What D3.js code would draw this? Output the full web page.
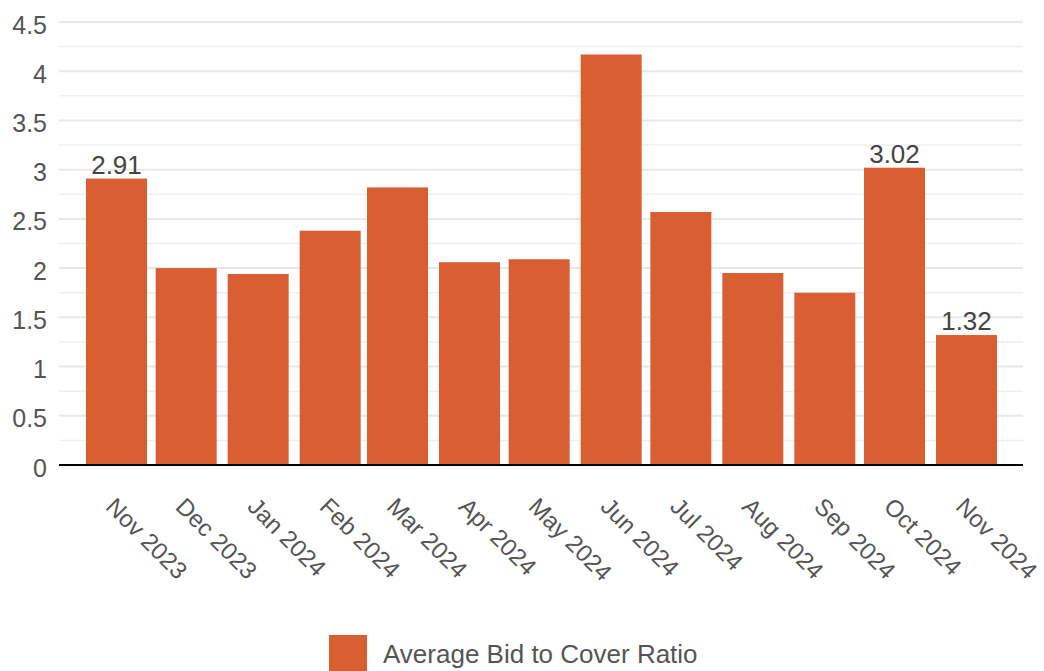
<!DOCTYPE html>
<html>
<head>
<meta charset="utf-8">
<script src="https://cdn.jsdelivr.net/npm/d3@7"></script>
<style>
  html, body { margin: 0; padding: 0; background: #fff; }
  svg { display: block; font-family: "Liberation Sans", Arial, sans-serif; }
</style>
</head>
<body>
<svg id="chart" width="1044" height="671"></svg>
<script>
// Monthly auction results
const months = ["2023-11", "2023-12", "2024-01", "2024-02", "2024-03", "2024-04", "2024-05",
                "2024-06", "2024-07", "2024-08", "2024-09", "2024-10", "2024-11"];
const ratios = [2.91, 2.00, 1.94, 2.38, 2.82, 2.06, 2.09, 4.17, 2.57, 1.95, 1.75, 3.02, 1.32];
const labelledMonths = ["2023-11", "2024-10", "2024-11"];
const yTicks = [0, 0.5, 1, 1.5, 2, 2.5, 3, 3.5, 4, 4.5];
const seriesName = "Average Bid to Cover Ratio";

const FONT = "'Liberation Sans', Arial, sans-serif";
const parseMonth = d3.timeParse("%Y-%m");
const fmtMonth = d3.timeFormat("%b %Y");
const data = months.map((m, i) => ({ date: parseMonth(m), key: m, value: ratios[i] }));

const svg = d3.select("#chart");
const plot = { left: 59, right: 1023, top: 22, bottom: 465 };
const barColor = "#d95e32";
const barWidth = 61;

const x = d3.scaleTime()
  .domain([parseMonth("2023-11"), parseMonth("2024-11")])
  .range([116.5, 966.5]);
const y = d3.scaleLinear().domain([0, 4.5]).range([plot.bottom, plot.top]);

// Grid: minor lines every 0.25, major every 0.5
const minor = d3.range(0.25, 4.5, 0.5);
svg.append("g").selectAll("line").data(minor).join("line")
  .attr("x1", plot.left).attr("x2", plot.right)
  .attr("y1", d => y(d)).attr("y2", d => y(d))
  .attr("stroke", "#efefef").attr("stroke-width", 1.5);
svg.append("g").selectAll("line").data(yTicks.filter(d => d > 0)).join("line")
  .attr("x1", plot.left).attr("x2", plot.right)
  .attr("y1", d => y(d)).attr("y2", d => y(d))
  .attr("stroke", "#e8e8e8").attr("stroke-width", 2);

// Y axis labels
const yAxis = d3.axisLeft(y).tickValues(yTicks).tickSize(0).tickPadding(12)
  .tickFormat(d => d3.format("")(d));
const yg = svg.append("g").attr("transform", `translate(${plot.left},0)`).call(yAxis);
yg.select(".domain").remove();
yg.selectAll("text").attr("font-size", 25).attr("fill", "#555")
  .attr("font-family", FONT).attr("dy", "0.44em");

// Bars
svg.append("g").selectAll("rect").data(data).join("rect")
  .attr("x", d => x(d.date) - barWidth / 2)
  .attr("width", barWidth)
  .attr("y", d => y(d.value))
  .attr("height", d => y(0) - y(d.value))
  .attr("fill", barColor);

// Value labels
svg.append("g").selectAll("text").data(data.filter(d => labelledMonths.includes(d.key))).join("text")
  .attr("x", d => x(d.date))
  .attr("y", d => y(d.value) - 5)
  .attr("text-anchor", "middle")
  .attr("font-family", FONT)
  .attr("font-size", 26).attr("fill", "#444")
  .text(d => d.value.toFixed(2));

// Baseline
svg.append("line")
  .attr("x1", plot.left).attr("x2", plot.right)
  .attr("y1", y(0)).attr("y2", y(0))
  .attr("stroke", "#000").attr("stroke-width", 2);

// X axis labels, rotated
const xg = svg.append("g");
xg.selectAll("text").data(data).join("text")
  .attr("transform", d => `translate(${x(d.date) - 12},${y(0) + 43}) rotate(45)`)
  .attr("text-anchor", "start")
  .attr("font-family", FONT)
  .attr("font-size", 24).attr("fill", "#555")
  .text(d => fmtMonth(d.date));

// Legend
const lg = svg.append("g").attr("transform", "translate(329,635)");
lg.append("rect").attr("width", 38).attr("height", 36).attr("fill", barColor);
lg.append("text").attr("x", 54).attr("y", 28)
  .attr("font-family", FONT)
  .attr("font-size", 26).attr("fill", "#555")
  .text(seriesName);
</script>
</body>
</html>
